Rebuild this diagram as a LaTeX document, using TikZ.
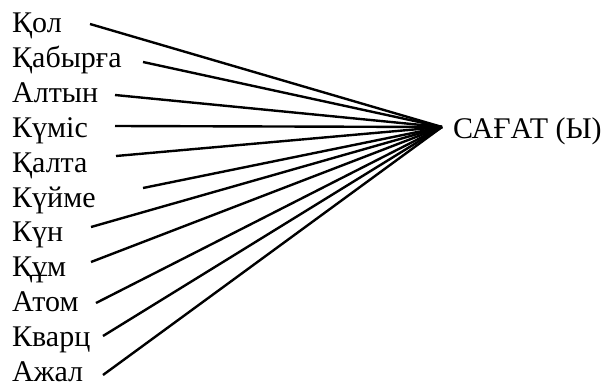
\documentclass[tikz,border=0pt]{standalone}
\usepackage{fontspec}
\setmainfont{Liberation Serif}
\begin{document}
\begin{tikzpicture}[x=1pt,y=-1pt,
  word/.style={anchor=base west,inner sep=0pt,font=\fontsize{30}{30}\selectfont},
  spoke/.style={line width=2.4pt,line cap=butt}]
\useasboundingbox (0,0) rectangle (612,385);
\foreach \t [count=\i] in {Қол,Қабырға,Алтын,Күміс,Қалта,Күйме,Күн,Құм,Атом,Кварц,Ажал}
  \node[word] (w\i) at (12,{33+34.8*(\i-1)}) {\t};
\node[word] (clock) at (453,138) {САҒАТ (Ы)};
\coordinate (hub) at (442,127);
\coordinate (s1) at (90,24);
\coordinate (s2) at (143,62);
\coordinate (s3) at (115,95);
\coordinate (s4) at (115,126);
\coordinate (s5) at (116,156);
\coordinate (s6) at (143,188);
\coordinate (s7) at (91,227);
\coordinate (s8) at (91,262);
\coordinate (s9) at (96,303);
\coordinate (s10) at (103,336);
\coordinate (s11) at (103,375);
\foreach \i in {1,...,11} \draw[spoke] (s\i) -- (hub);
\end{tikzpicture}
\end{document}
